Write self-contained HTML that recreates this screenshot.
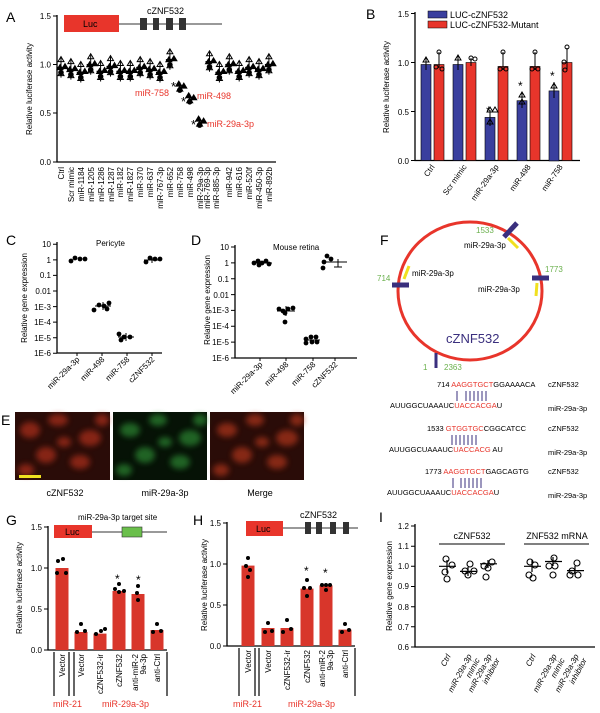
<!DOCTYPE html>
<html><head><meta charset="utf-8"><style>body{margin:0;background:#fff}svg{display:block;font-family:"Liberation Sans",Arial,sans-serif}</style></head><body>
<svg width="600" height="713" viewBox="0 0 600 713" xmlns="http://www.w3.org/2000/svg">
<defs>
<g id="cl" stroke="#000" fill="#000"><line x1="0" y1="-10" x2="0" y2="10" stroke-width="1"/><line x1="-4" y1="0" x2="4" y2="0" stroke-width="1.5"/><path d="M-3,-6 l3,-5 l3,5z" fill="none"/><path d="M-4,2 l3,-5 l3,5z"/><path d="M1,1 l3,-5 l3,5z"/><circle cx="0" cy="5" r="2.3"/><path d="M-3,8 l3,-5 l3,5z" fill="none"/></g>
<g id="cs" stroke="#000" fill="#000"><line x1="0" y1="-5" x2="0" y2="5"/><path d="M-4,-1 l3,-5 l3,5z"/><path d="M1,1 l3,-5 l3,5z"/><circle cx="0" cy="3" r="2.3"/><path d="M-3,4 l3,-5 l3,5z"/></g>
<filter id="bl"><feGaussianBlur stdDeviation="3"/></filter>
</defs>
<g font-size="8" fill="#000">
<!-- A -->
<text x="6" y="22" font-size="14">A</text>
<path d="M57,15V162H276" fill="none" stroke="#000" stroke-width="1.3"/>
<path d="M53,16h4M53,64.5h4M53,113h4M53,162h4" stroke="#000"/>
<text x="51" y="19" text-anchor="end">1.5</text><text x="51" y="67.5" text-anchor="end">1.0</text><text x="51" y="116" text-anchor="end">0.5</text><text x="51" y="165" text-anchor="end">0.0</text>
<text transform="translate(32,89) rotate(-90)" text-anchor="middle">Relative luciferase activity</text>
<rect x="64" y="15" width="55" height="17" fill="#e8352b"/><text x="83" y="27" font-size="9">Luc</text>
<line x1="119" y1="24" x2="222" y2="24" stroke="#333"/>
<g fill="#333"><rect x="140" y="18" width="7" height="12"/><rect x="153" y="18" width="6" height="12"/><rect x="166" y="18" width="7" height="12"/><rect x="179" y="18" width="7" height="12"/></g>
<text x="147" y="14" font-size="9">cZNF532</text>
<use href="#cl" x="61" y="67.6"/><use href="#cl" x="70.9" y="69.6"/><use href="#cl" x="80.8" y="72.5"/><use href="#cl" x="90.7" y="64.7"/><use href="#cl" x="100.6" y="71.5"/><use href="#cl" x="110.5" y="66.6"/><use href="#cl" x="120.4" y="71.5"/><use href="#cl" x="130.3" y="71.5"/><use href="#cl" x="140.2" y="67.6"/><use href="#cl" x="150.1" y="69.6"/><use href="#cl" x="160" y="72.5"/><use href="#cl" x="169.9" y="59.8"/><use href="#cs" x="179.8" y="87.1"/><use href="#cs" x="189.7" y="98.8"/><use href="#cs" x="199.6" y="122.1"/><use href="#cl" x="209.5" y="61.8"/><use href="#cl" x="219.4" y="72.5"/><use href="#cl" x="229.3" y="64.7"/><use href="#cl" x="239.2" y="71.5"/><use href="#cl" x="249.1" y="67.6"/><use href="#cl" x="259" y="69.6"/><use href="#cl" x="268.9" y="64.7"/>
<text x="171" y="91" font-size="13">*</text><text x="181" y="106" font-size="13">*</text><text x="191" y="129" font-size="13">*</text>
<g fill="#e8352b" font-size="9"><text x="135" y="96">miR-758</text><text x="197" y="99">miR-498</text><text x="207" y="127">miR-29a-3p</text></g>
<g text-anchor="end">
<text transform="translate(64,167) rotate(-90)">Ctrl</text><text transform="translate(74,167) rotate(-90)">Scr mimic</text><text transform="translate(84,167) rotate(-90)">miR-1184</text><text transform="translate(94,167) rotate(-90)">miR-1205</text><text transform="translate(104,167) rotate(-90)">miR-1286</text><text transform="translate(114,167) rotate(-90)">miR-1287</text><text transform="translate(123,167) rotate(-90)">miR-182</text><text transform="translate(133,167) rotate(-90)">miR-1827</text><text transform="translate(143,167) rotate(-90)">miR-370</text><text transform="translate(153,167) rotate(-90)">miR-637</text><text transform="translate(163,167) rotate(-90)">miR-767-3p</text><text transform="translate(173,167) rotate(-90)">miR-652</text><text transform="translate(183,167) rotate(-90)">miR-758</text><text transform="translate(193,167) rotate(-90)">miR-498</text><text transform="translate(203,167) rotate(-90)">miR-29a-3p</text><text transform="translate(210,167) rotate(-90)">miR-769-3p</text><text transform="translate(219,167) rotate(-90)">miR-885-3p</text><text transform="translate(232,167) rotate(-90)">miR-942</text><text transform="translate(242,167) rotate(-90)">miR-616</text><text transform="translate(252,167) rotate(-90)">miR-520f</text><text transform="translate(262,167) rotate(-90)">miR-450-3p</text><text transform="translate(272,167) rotate(-90)">miR-892b</text>
</g>
<!-- B -->
<text x="366" y="19" font-size="14">B</text>
<path d="M415,12V160.5H580" fill="none" stroke="#000" stroke-width="1.3"/>
<path d="M411,13.5h4M411,62.5h4M411,111.5h4M411,160.5h4" stroke="#000"/>
<text x="409" y="17" text-anchor="end">1.5</text><text x="409" y="66" text-anchor="end">1.0</text><text x="409" y="115" text-anchor="end">0.5</text><text x="409" y="164" text-anchor="end">0.0</text>
<text transform="translate(389,87) rotate(-90)" text-anchor="middle">Relative luciferase activity</text>
<rect x="428" y="11" width="19" height="7" fill="#3a3f9e" stroke="#000" stroke-width=".5"/><text x="450" y="18" font-size="9">LUC-cZNF532</text>
<rect x="428" y="21" width="19" height="7" fill="#e8352b" stroke="#000" stroke-width=".5"/><text x="450" y="28" font-size="9">LUC-cZNF532-Mutant</text>
<g stroke="#000" stroke-width=".6">
<rect x="421" y="64.5" width="10" height="96" fill="#3a3f9e"/><rect x="434" y="64.5" width="10" height="96" fill="#e8352b"/>
<rect x="453" y="64.5" width="10" height="96" fill="#3a3f9e"/><rect x="466" y="62.5" width="10" height="98" fill="#e8352b"/>
<rect x="485" y="117.4" width="10" height="43" fill="#3a3f9e"/><rect x="498" y="66.4" width="10" height="94" fill="#e8352b"/>
<rect x="517" y="100.7" width="10" height="60" fill="#3a3f9e"/><rect x="530" y="66.4" width="10" height="94" fill="#e8352b"/>
<rect x="549" y="90.9" width="10" height="70" fill="#3a3f9e"/><rect x="562" y="62.5" width="10" height="98" fill="#e8352b"/>
</g>
<g fill="none" stroke="#000"><path d="M426,58v12M439,52v16M458,56v14M471,58v8M490,110v16M503,52v18M522,92v16M535,52v18M554,82v16M567,48v22"/>
<circle cx="439" cy="52" r="2"/><circle cx="471" cy="58" r="2"/><circle cx="503" cy="52" r="2"/><circle cx="535" cy="52" r="2"/><circle cx="567" cy="47" r="2"/><circle cx="436" cy="67" r="2"/><circle cx="442" cy="69" r="2"/><circle cx="475" cy="59" r="2"/><circle cx="500" cy="69" r="2"/><circle cx="506" cy="69" r="2"/><circle cx="532" cy="69" r="2"/><circle cx="538" cy="69" r="2"/><circle cx="564" cy="62" r="2"/><circle cx="565" cy="70" r="2"/>
<path d="M423,62l3,-5l3,5zM455,60l3,-5l3,5zM487,112l3,-5l3,5zM492,112l3,-5l3,5zM519,97l3,-5l3,5zM551,88l3,-5l3,5zM487,124l3,-5l3,5zM519,104l3,-5l3,5z"/></g>
<g font-size="12"><text x="486" y="115">*</text><text x="518" y="90">*</text><text x="550" y="80">*</text></g>
<g text-anchor="end">
<text transform="translate(435,167) rotate(-55)">Ctrl</text><text transform="translate(467,167) rotate(-55)">Scr mimic</text><text transform="translate(499,167) rotate(-55)">miR-29a-3p</text><text transform="translate(531,167) rotate(-55)">miR-498</text><text transform="translate(563,167) rotate(-55)">miR-758</text>
</g>
<!-- C -->
<text x="6" y="245" font-size="14">C</text>
<path d="M57,242V353H162" fill="none" stroke="#000" stroke-width="1.3"/>
<path d="M53,244.3h4M53,259.9h4M53,275.4h4M53,291h4M53,306.6h4M53,322.1h4M53,337.7h4M53,353.3h4M77,353v3M102,353v3M127,353v3M152,353v3" stroke="#000"/>
<g text-anchor="end"><text x="51" y="247">10</text><text x="51" y="263">1</text><text x="51" y="278">0.1</text><text x="51" y="294">0.01</text><text x="51" y="310">1E-3</text><text x="51" y="325">1E-4</text><text x="51" y="341">1E-5</text><text x="51" y="356">1E-6</text></g>
<text transform="translate(27,298) rotate(-90)" text-anchor="middle">Relative gene expression</text>
<text x="96" y="246">Pericyte</text>
<g fill="#000"><circle cx="71" cy="261" r="2.4"/><circle cx="75" cy="258" r="2.4"/><circle cx="80" cy="259" r="2.4"/><circle cx="85" cy="259" r="2.4"/>
<circle cx="94" cy="310" r="2.4"/><circle cx="99" cy="305" r="2.4"/><circle cx="104" cy="306" r="2.4"/><circle cx="109" cy="303" r="2.4"/><circle cx="107" cy="309" r="2.4"/>
<circle cx="119" cy="334" r="2.4"/><circle cx="124" cy="337" r="2.4"/><circle cx="130" cy="337" r="2.4"/><circle cx="121" cy="340" r="2.4"/>
<circle cx="146" cy="262" r="2.4"/><circle cx="150" cy="258" r="2.4"/><circle cx="155" cy="259" r="2.4"/><circle cx="160" cy="259" r="2.4"/></g>
<path d="M95,306h16M103,302v8M118,337h16M126,333v8M144,260h16M152,257v6" stroke="#000"/>
<g text-anchor="end"><text transform="translate(80,360) rotate(-45)">miR-29a-3p</text><text transform="translate(105,360) rotate(-45)">miR-498</text><text transform="translate(130,360) rotate(-45)">miR-758</text><text transform="translate(155,360) rotate(-45)">cZNF532</text></g>
<!-- D -->
<text x="191" y="245" font-size="14">D</text>
<path d="M235,245V358H357" fill="none" stroke="#000" stroke-width="1.3"/>
<path d="M231,247h4M231,262.9h4M231,278.7h4M231,294.6h4M231,310.4h4M231,326.3h4M231,342.1h4M231,358h4M260,358v3M286,358v3M313,358v3M335,358v3" stroke="#000"/>
<g text-anchor="end"><text x="229" y="250">10</text><text x="229" y="266">1</text><text x="229" y="282">0.1</text><text x="229" y="298">0.01</text><text x="229" y="313">1E-3</text><text x="229" y="329">1E-4</text><text x="229" y="345">1E-5</text><text x="229" y="361">1E-6</text></g>
<text transform="translate(210,300) rotate(-90)" text-anchor="middle">Relative gene expression</text>
<text x="273" y="250">Mouse retina</text>
<g fill="#000"><circle cx="254" cy="263" r="2.4"/><circle cx="258" cy="261" r="2.4"/><circle cx="262" cy="263" r="2.4"/><circle cx="266" cy="261" r="2.4"/><circle cx="269" cy="264" r="2.4"/><circle cx="259" cy="265" r="2.4"/>
<circle cx="279" cy="309" r="2.4"/><circle cx="283" cy="311" r="2.4"/><circle cx="288" cy="309" r="2.4"/><circle cx="293" cy="308" r="2.4"/><circle cx="285" cy="313" r="2.4"/><circle cx="285" cy="322" r="2.4"/>
<circle cx="306" cy="339" r="2.4"/><circle cx="311" cy="337" r="2.4"/><circle cx="316" cy="337" r="2.4"/><circle cx="306" cy="343" r="2.4"/><circle cx="312" cy="342" r="2.4"/><circle cx="317" cy="342" r="2.4"/>
<circle cx="324" cy="262" r="2.4"/><circle cx="327" cy="256" r="2.4"/><circle cx="323" cy="268" r="2.4"/><circle cx="331" cy="259" r="2.4"/></g>
<path d="M252,263h20M277,311h18M286,306v10M304,340h16M325,262h22M338,259v8M334,267h8" stroke="#000"/>
<g text-anchor="end"><text transform="translate(263,365) rotate(-45)">miR-29a-3p</text><text transform="translate(289,365) rotate(-45)">miR-498</text><text transform="translate(316,365) rotate(-45)">miR-758</text><text transform="translate(338,365) rotate(-45)">cZNF532</text></g>
<!-- E -->
<text x="1" y="425" font-size="14">E</text>
<rect x="15" y="412" width="95" height="68" fill="#2a0c08"/>
<rect x="113" y="412" width="94" height="68" fill="#061206"/>
<rect x="210" y="412" width="94" height="68" fill="#2a0c08"/>
<g filter="url(#bl)" opacity=".65">
<g fill="#b8301c"><ellipse cx="30" cy="430" rx="10" ry="8"/><ellipse cx="58" cy="420" rx="10" ry="6"/><ellipse cx="90" cy="438" rx="11" ry="8"/><ellipse cx="46" cy="455" rx="10" ry="8"/><ellipse cx="80" cy="462" rx="10" ry="7"/><ellipse cx="102" cy="420" rx="7" ry="6"/><ellipse cx="26" cy="470" rx="8" ry="6"/><ellipse cx="64" cy="442" rx="7" ry="5"/></g>
<g fill="#2f8f35"><ellipse cx="130" cy="430" rx="10" ry="7"/><ellipse cx="158" cy="420" rx="9" ry="6"/><ellipse cx="190" cy="438" rx="11" ry="8"/><ellipse cx="145" cy="455" rx="10" ry="8"/><ellipse cx="180" cy="462" rx="10" ry="7"/><ellipse cx="200" cy="420" rx="7" ry="6"/><ellipse cx="124" cy="470" rx="8" ry="6"/><ellipse cx="165" cy="442" rx="7" ry="5"/></g>
<g fill="#b8381c"><ellipse cx="227" cy="430" rx="10" ry="7"/><ellipse cx="255" cy="420" rx="9" ry="6"/><ellipse cx="287" cy="438" rx="11" ry="8"/><ellipse cx="242" cy="455" rx="10" ry="8"/><ellipse cx="277" cy="462" rx="10" ry="7"/><ellipse cx="297" cy="420" rx="7" ry="6"/><ellipse cx="221" cy="470" rx="8" ry="6"/><ellipse cx="262" cy="442" rx="7" ry="5"/></g>
</g>
<rect x="19" y="475" width="22" height="3" fill="#f0e020"/>
<g font-size="9" text-anchor="middle"><text x="65" y="496">cZNF532</text><text x="165" y="496">miR-29a-3p</text><text x="260" y="496">Merge</text></g>
<!-- F -->
<text x="380" y="245" font-size="14">F</text>
<ellipse cx="470" cy="291" rx="72" ry="69" fill="none" stroke="#e8352b" stroke-width="3"/>
<g stroke="#3a2f7e" stroke-width="5"><line x1="392" y1="285" x2="409" y2="285"/><line x1="532" y1="278" x2="549" y2="278"/><line x1="504" y1="237" x2="517" y2="223"/><line x1="436" y1="353" x2="436" y2="368" stroke-width="3"/></g>
<g stroke="#f0e020" stroke-width="3"><line x1="404" y1="279" x2="409" y2="266"/><line x1="508" y1="238" x2="518" y2="248"/><line x1="537" y1="283" x2="536" y2="296"/></g>
<g fill="#6ab04c"><text x="377" y="281">714</text><text x="476" y="233">1533</text><text x="545" y="272">1773</text><text x="423" y="370">1</text><text x="444" y="370">2363</text></g>
<text x="412" y="276">miR-29a-3p</text><text x="464" y="248">miR-29a-3p</text><text x="478" y="292">miR-29a-3p</text>
<text x="446" y="343" font-size="13" fill="#3a2f7e">cZNF532</text>
<g font-size="7.5">
<text x="437" y="387">714 <tspan fill="#e8352b">AAGGTGCT</tspan>GGAAAACA</text><text x="548" y="387">cZNF532</text>
<text x="390" y="408">AUUGGCUAAAUC<tspan fill="#e8352b">UACCACGA</tspan>U</text><text x="548" y="411">miR-29a-3p</text>
<text x="427" y="431">1533 <tspan fill="#e8352b">GTGGTGC</tspan>CGGCATCC</text><text x="548" y="431">cZNF532</text>
<text x="389" y="452">AUUGGCUAAAUC<tspan fill="#e8352b">UACCACG</tspan> AU</text><text x="548" y="455">miR-29a-3p</text>
<text x="425" y="474">1773 <tspan fill="#e8352b">AAGGTGCT</tspan>GAGCAGTG</text><text x="548" y="474">cZNF532</text>
<text x="387" y="495">AUUGGCUAAAUC<tspan fill="#e8352b">UACCACGA</tspan>U</text><text x="548" y="498">miR-29a-3p</text>
</g>
<g stroke="#3a2f7e" stroke-width="1"><path d="M457,391v10M466,391v10M470,391v10M474,391v10M478,391v10M482,391v10M486,391v10"/><path d="M452,435v10M456,435v10M460,435v10M464,435v10M468,435v10M472,435v10M476,435v10"/><path d="M453,478v10M461,478v10M465,478v10M469,478v10M473,478v10M477,478v10M481,478v10"/></g>
<!-- G -->
<text x="6" y="525" font-size="14">G</text>
<path d="M48,526V650H167" fill="none" stroke="#000" stroke-width="1.3"/>
<path d="M44,527h4M44,568h4M44,609h4M44,650h4" stroke="#000"/>
<g text-anchor="end"><text x="42" y="530">1.5</text><text x="42" y="571">1.0</text><text x="42" y="612">0.5</text><text x="42" y="653">0.0</text></g>
<text transform="translate(22,588) rotate(-90)" text-anchor="middle">Relative luciferase activity</text>
<rect x="54" y="525" width="38" height="13" fill="#e8352b"/><text x="65" y="535" font-size="9">Luc</text>
<line x1="92" y1="532" x2="167" y2="532" stroke="#333"/><rect x="122" y="527" width="20" height="10" fill="#6abf4b" stroke="#333" stroke-width=".6"/>
<text x="78" y="520" font-size="8">miR-29a-3p target site</text>
<g fill="#d8362b"><rect x="55.5" y="568" width="13" height="82"/><rect x="74.5" y="632" width="13" height="18"/><rect x="93.5" y="633.6" width="13" height="16.4"/><rect x="112.5" y="591" width="13" height="59"/><rect x="131.5" y="594" width="13" height="56"/><rect x="150.5" y="630" width="13" height="20"/></g>
<g fill="#000"><circle cx="58" cy="561" r="2"/><circle cx="63" cy="559" r="2"/><circle cx="66" cy="573" r="2"/><circle cx="57" cy="573" r="2"/><circle cx="81" cy="624" r="2"/><circle cx="77" cy="632" r="2"/><circle cx="85" cy="631" r="2"/><circle cx="96" cy="634" r="2"/><circle cx="101" cy="631" r="2"/><circle cx="105" cy="629" r="2"/><circle cx="119" cy="584" r="2"/><circle cx="115" cy="589" r="2"/><circle cx="119" cy="592" r="2"/><circle cx="124" cy="591" r="2"/><circle cx="138" cy="586" r="2"/><circle cx="137" cy="593" r="2"/><circle cx="138" cy="600" r="2"/><circle cx="153" cy="632" r="2"/><circle cx="157" cy="624" r="2"/><circle cx="161" cy="631" r="2"/></g>
<g font-size="12"><text x="115" y="583">*</text><text x="136" y="584">*</text></g>
<g text-anchor="end"><text transform="translate(65,654) rotate(-90)">Vector</text><text transform="translate(84,654) rotate(-90)">Vector</text><text transform="translate(103,654) rotate(-90)">cZNF532-ir</text><text transform="translate(122,654) rotate(-90)">cZNF532</text><text transform="translate(138,654) rotate(-90)">anti-miR-2</text><text transform="translate(146,654) rotate(-90)">9a-3p</text><text transform="translate(160,654) rotate(-90)">anti-Ctrl</text></g>
<path d="M54,652V696M69,652V696M74,652V696M167,652V696" stroke="#000" stroke-width="1.2"/>
<g fill="#e8352b" font-size="9"><text x="53" y="707">miR-21</text><text x="102" y="707">miR-29a-3p</text></g>
<!-- H -->
<text x="193" y="525" font-size="14">H</text>
<path d="M227,522V646H355" fill="none" stroke="#000" stroke-width="1.3"/>
<path d="M223,523h4M223,564h4M223,605h4M223,646h4" stroke="#000"/>
<g text-anchor="end"><text x="221" y="526">1.5</text><text x="221" y="567">1.0</text><text x="221" y="608">0.5</text><text x="221" y="649">0.0</text></g>
<text transform="translate(207,585) rotate(-90)" text-anchor="middle">Relative luciferase activity</text>
<rect x="246" y="521" width="37" height="15" fill="#e8352b"/><text x="256" y="532" font-size="9">Luc</text>
<line x1="283" y1="528" x2="358" y2="528" stroke="#333"/>
<g fill="#333"><rect x="305" y="522" width="6" height="12"/><rect x="316" y="522" width="6" height="12"/><rect x="330" y="522" width="6" height="12"/><rect x="343" y="522" width="6" height="12"/></g>
<text x="300" y="518" font-size="9">cZNF532</text>
<g fill="#d8362b"><rect x="241.5" y="565.6" width="13" height="80.4"/><rect x="261.5" y="628" width="13" height="18"/><rect x="280.5" y="628" width="13" height="18"/><rect x="300.5" y="588.6" width="13" height="57.4"/><rect x="319.5" y="585.3" width="13" height="60.7"/><rect x="338.5" y="629.6" width="13" height="16.4"/></g>
<g fill="#000"><circle cx="248" cy="558" r="2"/><circle cx="246" cy="566" r="2"/><circle cx="250" cy="570" r="2"/><circle cx="248" cy="577" r="2"/><circle cx="265" cy="632" r="2"/><circle cx="268" cy="623" r="2"/><circle cx="272" cy="631" r="2"/><circle cx="283" cy="632" r="2"/><circle cx="287" cy="620" r="2"/><circle cx="291" cy="629" r="2"/><circle cx="307" cy="580" r="2"/><circle cx="304" cy="588" r="2"/><circle cx="310" cy="588" r="2"/><circle cx="307" cy="596" r="2"/><circle cx="322" cy="585" r="2"/><circle cx="326" cy="585" r="2"/><circle cx="330" cy="585" r="2"/><circle cx="326" cy="590" r="2"/><circle cx="342" cy="632" r="2"/><circle cx="345" cy="624" r="2"/><circle cx="349" cy="630" r="2"/></g>
<g font-size="12"><text x="304" y="575">*</text><text x="323" y="577">*</text></g>
<g text-anchor="end"><text transform="translate(251,650) rotate(-90)">Vector</text><text transform="translate(271,650) rotate(-90)">Vector</text><text transform="translate(290,650) rotate(-90)">cZNF532-ir</text><text transform="translate(310,650) rotate(-90)">cZNF532</text><text transform="translate(325,650) rotate(-90)">anti-miR-2</text><text transform="translate(333,650) rotate(-90)">9a-3p</text><text transform="translate(348,650) rotate(-90)">anti-Ctrl</text></g>
<path d="M239,648V696M255,648V696M259,648V696M355,648V696" stroke="#000" stroke-width="1.2"/>
<g fill="#e8352b" font-size="9"><text x="233" y="707">miR-21</text><text x="288" y="707">miR-29a-3p</text></g>
<!-- I -->
<text x="379" y="522" font-size="14">I</text>
<path d="M415,524V647H595" fill="none" stroke="#000" stroke-width="1.3"/>
<path d="M411,526h4M411,546.2h4M411,566.3h4M411,586.5h4M411,606.7h4M411,626.8h4M411,647h4" stroke="#000"/>
<g text-anchor="end"><text x="409" y="529">1.2</text><text x="409" y="549">1.1</text><text x="409" y="569">1.0</text><text x="409" y="589">0.9</text><text x="409" y="610">0.8</text><text x="409" y="630">0.7</text><text x="409" y="650">0.6</text></g>
<text transform="translate(392,586) rotate(-90)" text-anchor="middle">Relative gene expression</text>
<path d="M439,544H505M524,544H589" stroke="#000"/>
<g font-size="9" text-anchor="middle"><text x="472" y="539">cZNF532</text><text x="557" y="539">ZNF532 mRNA</text></g>
<g fill="none" stroke="#000" stroke-width="1.1"><circle cx="446" cy="559" r="3"/><circle cx="452" cy="565" r="3"/><circle cx="445" cy="572" r="3"/><circle cx="447" cy="579" r="3"/><circle cx="470" cy="564" r="3"/><circle cx="465" cy="571" r="3"/><circle cx="474" cy="571" r="3"/><circle cx="468" cy="575" r="3"/><circle cx="484" cy="566" r="3"/><circle cx="492" cy="562" r="3"/><circle cx="488" cy="568" r="3"/><circle cx="486" cy="577" r="3"/>
<circle cx="530" cy="562" r="3"/><circle cx="535" cy="565" r="3"/><circle cx="529" cy="575" r="3"/><circle cx="533" cy="578" r="3"/><circle cx="554" cy="558" r="3"/><circle cx="555" cy="566" r="3"/><circle cx="549" cy="566" r="3"/><circle cx="553" cy="575" r="3"/><circle cx="577" cy="563" r="3"/><circle cx="572" cy="571" r="3"/><circle cx="578" cy="575" r="3"/><circle cx="570" cy="575" r="3"/></g>
<path d="M439,566.3h17M447,560v13M460,571.4h17M468,567v9M480,563.8h17M488,560v8M524,566.3h17M532,560v12M545,561.5h17M553,557v9M567,570.6h17M575,566v9" stroke="#000" stroke-width="1.2"/>
<g font-style="italic" text-anchor="end">
<text transform="translate(451,656) rotate(-62)">Ctrl</text>
<text transform="translate(472,656) rotate(-62)">miR-29a-3p</text><text transform="translate(480,660) rotate(-62)">mimic</text>
<text transform="translate(492,656) rotate(-62)">miR-29a-3p</text><text transform="translate(500,660) rotate(-62)">inhibitor</text>
<text transform="translate(536,656) rotate(-62)">Ctrl</text>
<text transform="translate(557,656) rotate(-62)">miR-29a-3p</text><text transform="translate(565,660) rotate(-62)">mimic</text>
<text transform="translate(579,656) rotate(-62)">miR-29a-3p</text><text transform="translate(587,660) rotate(-62)">inhibitor</text>
</g>
</g>
</svg>
</body></html>
